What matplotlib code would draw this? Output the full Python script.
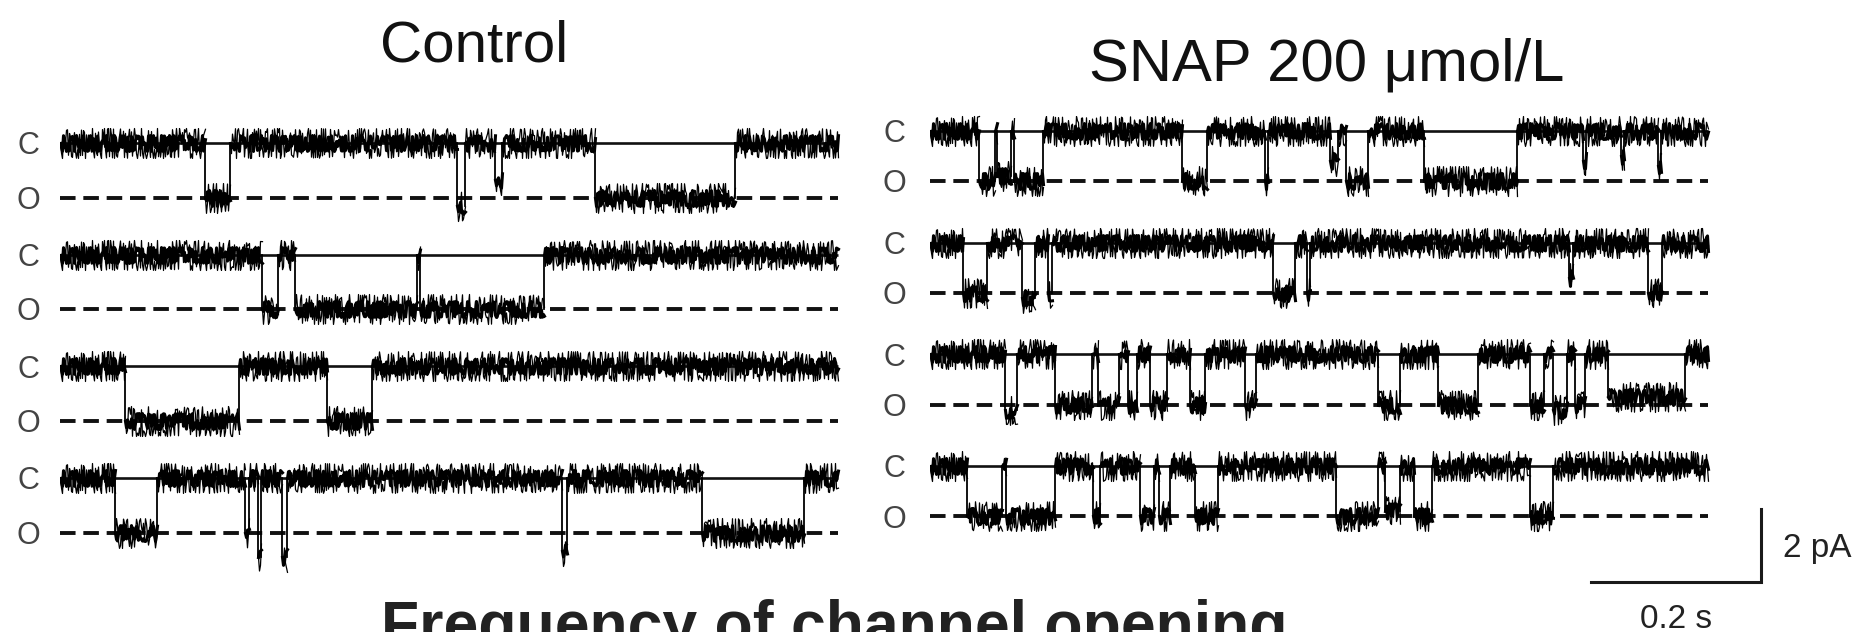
import matplotlib
matplotlib.use("Agg")
import matplotlib.pyplot as plt

plt.rcParams['font.family'] = ['Liberation Sans', 'DejaVu Sans']

# ------------------------------
#   Data: single-channel openings
# ------------------------------
# each event = (start s, end s, fraction of unitary amplitude)

trace_dur = 0.915        # s per sweep
amp_ctrl = 1.50          # pA, unitary current (Control)
amp_snap = 1.38          # pA, unitary current (SNAP)
row_gap = 3.07           # pA between sweeps

ctrl_row1 = [(0.171, 0.200, 1.0), (0.467, 0.476, 1.15), (0.512, 0.520, 0.68),
             (0.629, 0.794, 1.0)]
ctrl_row2 = [(0.238, 0.256, 1.0), (0.276, 0.420, 1.0), (0.424, 0.569, 1.0)]
ctrl_row3 = [(0.076, 0.211, 1.0), (0.314, 0.367, 1.0)]
ctrl_row4 = [(0.065, 0.114, 1.0), (0.218, 0.222, 1.0), (0.233, 0.236, 1.45),
             (0.261, 0.267, 1.45), (0.591, 0.596, 1.34), (0.755, 0.875, 1.0)]

snap_row1 = [(0.058, 0.076, 1.0), (0.079, 0.095, 0.9), (0.099, 0.133, 1.0),
             (0.297, 0.326, 1.0), (0.394, 0.398, 1.0), (0.470, 0.480, 0.6),
             (0.489, 0.515, 1.0), (0.581, 0.691, 1.0), (0.768, 0.772, 0.6),
             (0.813, 0.816, 0.5), (0.856, 0.860, 0.7)]
snap_row2 = [(0.039, 0.067, 1.0), (0.108, 0.124, 1.1), (0.139, 0.143, 1.0),
             (0.404, 0.429, 1.0), (0.443, 0.447, 1.0), (0.752, 0.756, 0.7),
             (0.845, 0.861, 1.0)]
snap_row3 = [(0.088, 0.102, 1.1), (0.147, 0.190, 1.0), (0.198, 0.222, 1.0),
             (0.233, 0.243, 1.0), (0.259, 0.279, 1.0), (0.306, 0.324, 1.0),
             (0.371, 0.384, 1.0), (0.527, 0.553, 1.0), (0.598, 0.645, 1.0),
             (0.706, 0.722, 1.0), (0.733, 0.749, 1.1), (0.759, 0.771, 1.0),
             (0.798, 0.888, 0.85)]
snap_row4 = [(0.043, 0.085, 1.0), (0.089, 0.147, 1.0), (0.192, 0.200, 1.0),
             (0.247, 0.263, 1.0), (0.269, 0.282, 1.0), (0.312, 0.339, 1.0),
             (0.478, 0.527, 1.0), (0.535, 0.553, 0.9), (0.569, 0.590, 1.0),
             (0.706, 0.733, 1.0)]

ctrl_rows = [ctrl_row1, ctrl_row2, ctrl_row3, ctrl_row4]
snap_rows = [snap_row1, snap_row2, snap_row3, snap_row4]

panel_titles = ["Control", "SNAP 200 \u03bcmol/L"]
state_labels = ["C", "O"]
bottom_title = "Frequency of channel opening"
bar_time = 0.2   # s
bar_amp = 2.0    # pA


#------------------------------
#   Layout (pixels of the output)
#------------------------------
W, H = 1861, 632
PX_PER_S = 850.0
PX_PER_PA = 36.4


def split_trace(events, dur, amp):
    # dwell pieces (flat, get the noisy look) and the jumps between them
    ft, fy, jt, jy = [], [], [], []
    prev = 0.0
    for s, e, f in events:
        lev = -amp * f
        ft += [prev, s, None, s, e, None]
        fy += [0.0, 0.0, None, lev, lev, None]
        jt += [s, s, None, e, e, None]
        jy += [0.0, lev, None, lev, 0.0, None]
        prev = e
    ft += [prev, dur]
    fy += [0.0, 0.0]
    ft = [float('nan') if v is None else v for v in ft]
    fy = [float('nan') if v is None else v for v in fy]
    jt = [float('nan') if v is None else v for v in jt]
    jy = [float('nan') if v is None else v for v in jy]
    return ft, fy, jt, jy


def draw_panel(ax, rows, amp, label_x):
    for i, events in enumerate(rows):
        base = -i * row_gap
        # reference levels
        ax.plot([0, trace_dur], [base, base], color='#111111', lw=1.9,
                solid_capstyle='butt')
        ax.plot([0, trace_dur], [base - amp, base - amp], color='#111111',
                lw=2.8, dashes=(4.0, 2.0), dash_capstyle='butt')
        # recorded current: idealised dwells drawn in a noisy sketch style
        ft, fy, jt, jy = split_trace(events, trace_dur, amp)
        fy = [v + base for v in fy]
        jy = [v + base for v in jy]
        core, = ax.plot(ft, fy, color='black', lw=2.2)
        core.set_sketch_params(scale=8, length=1.5, randomness=8)
        fringe, = ax.plot(ft, fy, color='black', lw=0.9)
        fringe.set_sketch_params(scale=15, length=3, randomness=3)
        ax.plot(jt, jy, color='black', lw=1.3)
        for lab, lev in zip(state_labels, [base, base - amp]):
            ax.annotate(lab, xy=(label_x, lev), xytext=(0, -8),
                        textcoords='offset points', ha='center',
                        va='baseline', fontsize=22, color='#444444',
                        annotation_clip=False)


fig = plt.figure(figsize=(W / 100, H / 100), dpi=100)

# Control panel: sweep starts at x=60 px, first closed level at y=143 px
ax_l = fig.add_axes([60 / W, 0, (880 - 60) / W, 1])
ax_l.set_xlim(0, (880 - 60) / PX_PER_S)
ax_l.set_ylim(-(H - 143) / PX_PER_PA, 143 / PX_PER_PA)
ax_l.axis('off')
draw_panel(ax_l, ctrl_rows, amp_ctrl, -32 / PX_PER_S)

# SNAP panel: sweep starts at x=930 px, first closed level at y=131 px
ax_r = fig.add_axes([930 / W, 0, (W - 930) / W, 1])
ax_r.set_xlim(0, (W - 930) / PX_PER_S)
ax_r.set_ylim(-(H - 131) / PX_PER_PA, 131 / PX_PER_PA)
ax_r.axis('off')
draw_panel(ax_r, snap_rows, amp_snap, -36 / PX_PER_S)

# scale bar
bx = (1761 - 930) / PX_PER_S
by = -(582 - 131) / PX_PER_PA
ax_r.plot([bx - bar_time, bx, bx], [by, by, by + bar_amp], color='#1a1a1a',
          lw=2.2, solid_joinstyle='miter')
ax_r.text(bx + 22 / PX_PER_S, by + 25 / PX_PER_PA, "%g pA" % bar_amp,
          fontsize=24, color='#222222', ha='left', va='baseline')
ax_r.text(bx - bar_time / 2, by - 46 / PX_PER_PA, "%g s" % bar_time,
          fontsize=24, color='#222222', ha='center', va='baseline')

# titles
fig.text(474 / W, 1 - 62 / H, panel_titles[0], fontsize=42, ha='center',
         va='baseline', color='#111111')
fig.text(1327 / W, 1 - 81 / H, panel_titles[1], fontsize=43, ha='center',
         va='baseline', color='#111111')
fig.text(834 / W, 1 - 645 / H, bottom_title, fontsize=45, fontweight='bold',
         ha='center', va='baseline', color='#222222')

fig.savefig("out.png", dpi=100, facecolor='white')
